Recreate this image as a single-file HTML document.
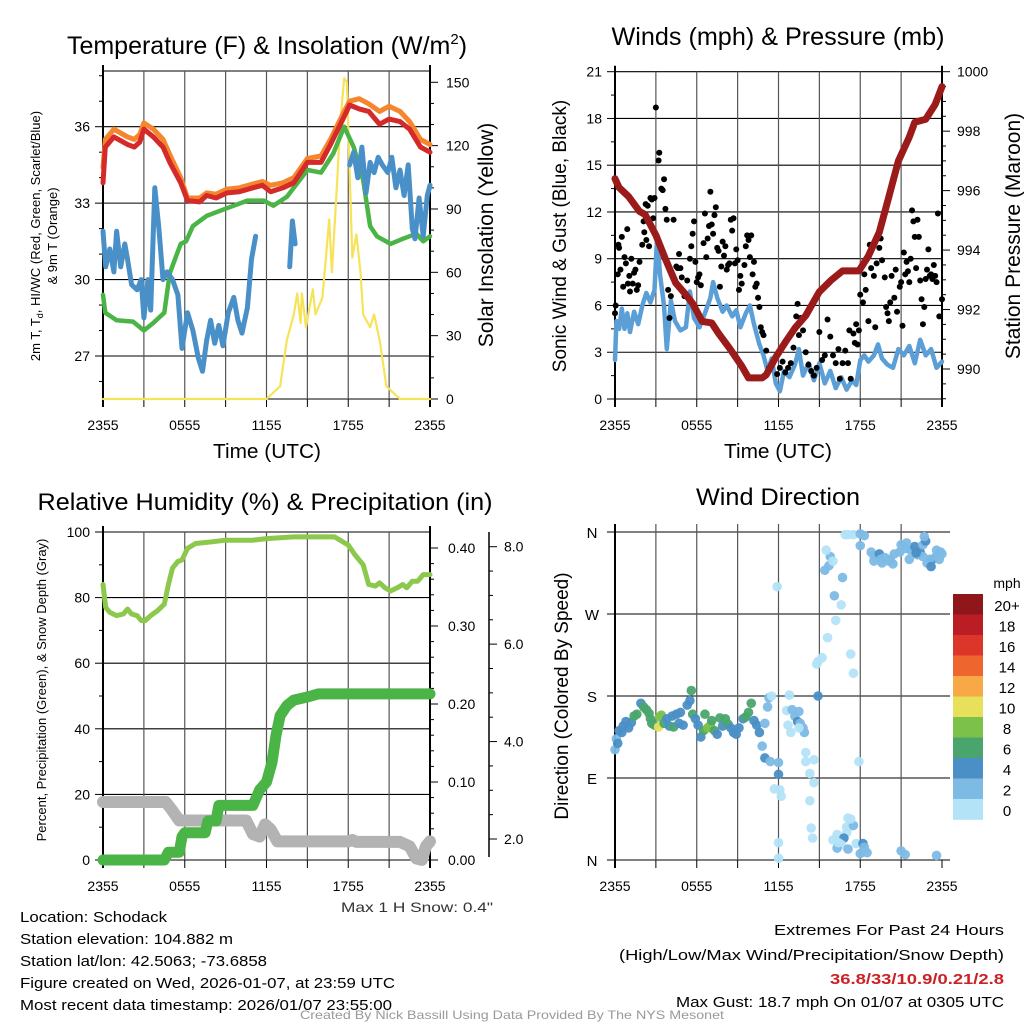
<!DOCTYPE html>
<html><head><meta charset="utf-8">
<style>
html,body{margin:0;padding:0;background:#fff;}
svg{display:block;font-family:"Liberation Sans",Arial,sans-serif;}
</style></head>
<body>
<svg id="fig" width="1024" height="1024" viewBox="0 0 1024 1024">
<rect width="1024" height="1024" fill="#fff"/>
<g id="g1"></g>
<g id="g2"></g>
<g id="g3"></g>
<g id="g4"></g>
<g id="txt" font-size="15" fill="#000">
<text x="20" y="922" textLength="147" lengthAdjust="spacingAndGlyphs">Location: Schodack</text>
<text x="20" y="944" textLength="213" lengthAdjust="spacingAndGlyphs">Station elevation: 104.882 m</text>
<text x="20" y="966" textLength="247" lengthAdjust="spacingAndGlyphs">Station lat/lon: 42.5063; -73.6858</text>
<text x="20" y="988" textLength="375" lengthAdjust="spacingAndGlyphs">Figure created on Wed, 2026-01-07, at 23:59 UTC</text>
<text x="20" y="1010" textLength="372" lengthAdjust="spacingAndGlyphs">Most recent data timestamp: 2026/01/07 23:55:00</text>
<text x="774" y="935" textLength="230" lengthAdjust="spacingAndGlyphs">Extremes For Past 24 Hours</text>
<text x="619" y="960" textLength="385" lengthAdjust="spacingAndGlyphs">(High/Low/Max Wind/Precipitation/Snow Depth)</text>
<text x="830" y="984" textLength="174" lengthAdjust="spacingAndGlyphs" fill="#cc2127" font-weight="bold">36.8/33/10.9/0.21/2.8</text>
<text x="676" y="1007" textLength="328" lengthAdjust="spacingAndGlyphs">Max Gust: 18.7 mph On 01/07 at 0305 UTC</text>
<text x="341" y="912" textLength="152" lengthAdjust="spacingAndGlyphs" font-size="14" fill="#333">Max 1 H Snow: 0.4"</text>
<text x="300" y="1019" textLength="424" lengthAdjust="spacingAndGlyphs" font-size="12" fill="#999">Created By Nick Bassill Using Data Provided By The NYS Mesonet</text>
</g>
</svg>
<script>
// ---------- DATA ----------
const timeTicks = ["2355","0555","1155","1755","2355"];
// Temperature panel
const tHours = [0,0.17,0.8,1.8,2.3,2.7,3.0,3.7,4.4,4.9,5.7,6.2,7.1,7.6,8.3,9.1,10.0,11.0,11.7,12.3,13.2,14.0,15.0,16.0,16.7,17.7,18.1,18.8,19.5,20.3,21.0,21.8,22.5,23.3,24];
const tempRed = [33.8,35.2,35.6,35.3,35.2,35.4,35.9,35.6,35.2,34.6,33.8,33.1,33.05,33.3,33.2,33.4,33.45,33.6,33.7,33.45,33.6,33.8,34.6,34.6,35.3,36.4,36.85,36.7,36.6,36.1,36.3,36.2,35.9,35.2,35.0];
const temp9m = [34.4,35.5,35.9,35.6,35.5,35.7,36.15,35.9,35.5,34.9,34.0,33.2,33.2,33.4,33.35,33.55,33.6,33.75,33.85,33.7,33.8,34.0,34.75,34.85,35.5,36.6,37.0,37.1,36.9,36.6,36.8,36.6,36.2,35.5,35.3];
const dHours = [0,0.17,1.0,2.2,3.0,3.7,4.5,4.9,5.7,6.1,6.6,7.6,9.1,10.6,11.8,12.5,13.5,15.0,16.0,16.9,17.7,18.4,19.1,19.6,20.1,21.1,22.0,23.0,23.5,24];
const dewGreen = [29.4,28.7,28.4,28.35,28.0,28.3,28.7,30.25,31.4,31.5,32.1,32.5,32.8,33.1,33.1,32.9,33.25,34.3,34.2,34.95,36.0,35.2,33.9,32.1,31.7,31.4,31.6,31.8,31.5,31.7];
const wcHours = [0,0.2,0.5,0.8,1.0,1.3,1.6,1.8,2.1,2.5,2.8,3.0,3.3,3.5,3.8,4.1,4.4,4.7,5.1,5.5,5.8,6.2,6.6,7.0,7.3,7.6,7.9,8.2,8.5,8.8,9.2,9.6,9.9,10.2,10.6,10.9,11.2,11.3,13.7,13.9,14.1,14.2,18.1,18.4,18.7,19.0,19.3,19.6,19.9,20.2,20.5,20.9,21.2,21.5,21.8,22.1,22.4,22.7,22.9,23.2,23.5,23.8,24];
const windChill = [31.9,30.5,31.2,30.3,31.9,30.5,31.4,30.8,29.8,29.6,30.0,28.5,30.0,28.8,33.6,32.0,30.0,30.3,30.0,29.4,27.3,28.7,28.0,26.9,26.4,27.6,28.4,27.5,28.2,27.4,28.7,29.3,28.4,27.9,28.9,30.8,31.7,null,30.5,32.3,31.4,null,34.5,35.0,34.0,35.2,33.4,34.6,34.2,34.8,34.5,34.2,34.8,33.6,34.3,33.3,34.5,32.0,31.6,33.2,31.7,33.3,33.7];
const solarHours = [0,12.0,13.0,13.5,14.0,14.25,14.5,14.6,14.9,15.4,15.6,16.1,16.6,16.8,17.2,17.4,17.7,17.9,18.3,18.6,18.9,19.1,19.6,19.9,20.3,20.8,21.3,21.8,24];
const solar = [0,0,6,28,40,50,36,50,34,52,40,48,85,60,105,130,152,150,67,78,60,40,34,40,28,6,3,0,0];
// Winds panel
const wHours = [0,0.1,0.3,0.5,0.7,0.9,1.1,1.4,1.7,2.0,2.3,2.6,2.9,3.1,3.3,3.6,3.8,4.1,4.4,4.8,5.2,5.5,5.8,6.2,6.6,7.0,7.2,7.5,7.9,8.2,8.6,8.9,9.2,9.6,9.9,10.2,10.6,10.9,11.2,11.5,11.8,12.1,12.4,12.8,13.2,13.5,13.8,14.2,14.6,15.0,15.4,15.8,16.2,16.6,17.0,17.4,17.7,18.0,18.3,18.6,19.0,19.3,19.6,20.0,20.4,20.8,21.2,21.6,22.0,22.4,22.8,23.2,23.6,24];
const windSpeed = [2.5,5,4.5,5.8,4.5,5.5,4.3,5.6,4.8,6.0,6.8,6.2,7.0,10.5,8.0,6.0,3.2,6.3,5.0,4.4,4.6,6.9,5.2,4.6,5.5,6.5,7.5,6.5,5.6,6.0,5.3,5.7,4.6,5.5,6.0,4.8,3.5,2.8,1.8,2.6,1.0,0.5,1.8,1.4,2.2,3.2,1.5,2.3,1.2,2.3,1.0,1.8,0.7,1.4,0.6,1.2,0.9,2.5,2.8,2.4,2.8,3.5,2.6,2.2,2.0,3.2,2.8,3.4,2.3,3.8,2.8,3.2,2.0,2.4];
const gustHours = [0.0,0.05,0.2,0.25,0.3,0.4,0.5,0.6,0.7,0.8,0.9,0.95,1.05,1.1,1.2,1.3,1.4,1.5,1.6,1.7,1.8,2.0,2.1,2.15,2.25,2.3,2.4,2.5,2.6,2.7,2.8,2.9,3.0,3.2,3.25,3.3,3.4,3.5,3.6,3.7,3.8,3.9,4.0,4.1,4.3,4.5,4.6,4.7,4.8,4.9,5.1,5.3,5.5,5.6,5.7,5.8,5.9,6.0,6.1,6.2,6.3,6.5,6.6,6.7,6.8,6.9,7.0,7.1,7.2,7.3,7.4,7.5,7.6,7.7,7.8,7.9,8.0,8.1,8.2,8.3,8.4,8.5,8.6,8.7,8.8,8.9,9.0,9.1,9.2,9.3,9.5,9.6,9.7,9.8,9.9,10.0,10.1,10.2,10.3,10.4,10.5,10.6,10.7,10.8,10.9,11.1,11.3,11.6,11.9,12.1,12.3,12.5,12.7,12.9,13.1,13.3,13.4,13.5,13.6,13.8,14.0,14.2,14.4,14.6,14.8,15.0,15.2,15.4,15.6,15.8,16.0,16.2,16.4,16.5,16.7,16.9,17.1,17.2,17.3,17.5,17.6,17.7,17.8,17.9,18.0,18.2,18.3,18.4,18.6,18.7,18.8,19.0,19.1,19.2,19.4,19.5,19.6,19.8,19.9,20.0,20.1,20.2,20.3,20.5,20.6,20.7,20.9,21.0,21.1,21.2,21.3,21.4,21.5,21.6,21.7,21.8,21.9,22.0,22.1,22.2,22.3,22.4,22.5,22.6,22.7,22.8,22.9,23.0,23.1,23.2,23.3,23.4,23.5,23.6,23.7,23.8,24.0];
const gustSpeed = [5.5,6.0,8.0,9.9,9.7,8.3,10.4,7.2,9.1,8.7,10.9,7.4,7.9,6.9,9.0,7.4,8.1,8.3,7.0,7.3,8.8,9.9,11.4,10.7,12.5,10.2,12.4,9.8,12.9,12.8,11.6,12.9,18.7,15.3,15.8,9.8,13.5,13.4,14.1,12.2,11.5,7.0,5.2,6.6,11.5,8.5,8.4,9.3,8.4,7.8,6.6,7.6,9.0,9.8,10.6,11.4,8.8,7.5,7.8,8.0,7.3,10.0,11.9,9.1,10.3,11.1,13.3,11.2,10.6,11.8,12.3,9.7,9.5,7.2,8.5,10.1,9.2,9.8,8.3,8.6,8.7,11.5,10.8,11.6,8.7,9.6,8.9,7.0,7.9,7.4,8.6,9.8,10.5,10.2,9.1,10.5,8.0,8.8,7.2,7.4,6.5,5.9,4.6,4.3,4.1,3.1,2.0,2.3,1.6,2.0,2.4,1.7,2.0,2.3,3.3,5.3,6.1,4.1,5.2,4.4,3.0,2.2,1.8,1.5,2.0,4.3,2.5,2.8,5.1,4.0,2.8,2.3,3.2,1.3,2.3,3.1,2.3,4.4,1.3,4.2,3.6,4.8,3.5,4.4,6.7,6.2,8.0,7.0,5.0,9.9,8.4,7.9,4.6,8.7,9.7,10.3,8.9,7.8,5.9,5.5,5.0,6.2,7.9,6.5,8.3,5.6,7.2,7.5,4.7,9.4,8.0,8.8,8.2,7.5,9.0,12.1,11.4,10.4,8.4,11.5,10.4,7.6,6.4,4.8,5.9,7.7,8.3,9.6,7.9,8.0,7.7,8.6,7.9,7.5,11.9,5.3,6.4];
const pHours = [0,0.3,1.0,1.8,2.2,3.0,3.7,4.45,5.2,5.7,6.4,7.1,7.6,8.4,9.3,9.8,10.8,11.1,11.8,12.5,13.25,14.0,15.0,15.9,16.7,17.9,18.6,19.4,20.1,20.8,21.6,22.0,22.8,23.5,24];
const pressure = [996.4,996.1,995.8,995.3,995.2,994.5,993.7,992.9,992.5,992.2,991.6,991.55,991.2,990.7,990.1,989.7,989.7,989.8,990.4,990.9,991.4,991.8,992.6,993.0,993.3,993.3,993.8,994.6,995.8,997.0,997.8,998.3,998.4,998.9,999.5];
// Humidity panel
const rhHours = [0,0.2,0.5,1.0,1.5,1.8,2.1,2.5,2.8,3.1,3.5,4.0,4.5,4.8,5.1,5.5,5.8,6.2,6.8,8,9,11,12,14,17,18,18.5,19.1,19.5,20,20.3,20.7,21.1,21.6,22,22.3,22.7,23.1,23.5,24];
const rh = [84,77,75.5,74.5,75,76.5,75,74.5,73,73,74.5,76,78,84,89,91,91.5,95,96.5,97,97.5,97.5,98,98.5,98.5,96,93,90,84,83.5,84.5,83,82,83,84,83,85,85,87,87];
const prHours = [0,4.5,4.8,5.6,5.8,6.0,7.5,7.7,8.3,8.5,8.8,11.0,11.5,12.0,12.4,12.7,13.0,13.5,14.0,15.0,15.8,24];
const precip = [0,0,0.01,0.01,0.03,0.035,0.035,0.05,0.05,0.07,0.07,0.07,0.09,0.10,0.125,0.16,0.185,0.198,0.205,0.209,0.213,0.213];
const snHours = [0,4.6,5.0,5.6,10.5,11.0,11.5,11.9,12.3,12.8,18,18.3,18.6,21.8,22.5,23.0,23.4,23.7,24];
const snow = [2.76,2.76,2.62,2.38,2.38,2.1,2.05,2.3,2.2,1.95,1.95,1.98,1.94,1.94,1.85,1.6,1.57,1.85,1.95];
// Wind direction panel
const dirHours = [0.0,0.1,0.2,0.3,0.5,0.6,0.8,1.0,1.2,1.4,1.6,1.9,2.1,2.3,2.5,2.6,2.7,2.9,3.2,3.3,3.4,3.6,3.8,4.0,4.2,4.3,4.5,4.7,4.8,5.0,5.3,5.5,5.6,5.7,5.9,6.1,6.3,6.5,6.6,6.8,7.0,7.1,7.3,7.5,7.7,7.9,8.1,8.3,8.5,8.7,8.9,9.1,9.4,9.6,9.8,10.0,10.2,10.4,10.6,10.8,11.0,11.2,11.3,11.5,11.0,11.4,12.0,12.0,11.7,12.1,12.2,12.0,12.0,11.9,12.8,12.6,12.7,13.0,13.2,13.4,13.5,13.6,13.8,13.9,12.9,13.5,14.0,14.0,14.3,14.6,14.3,14.4,14.5,14.6,14.9,14.8,14.9,15.2,15.6,16.2,16.6,16.1,16.7,15.4,15.7,15.8,15.5,16.0,17.3,17.5,17.9,16.0,16.3,17.0,17.3,17.5,17.0,17.1,17.7,18.2,16.8,17.3,16.6,16.3,16.4,17.1,18.0,18.5,18.3,21.0,21.3,23.6,16.9,17.1,17.5,18.0,18.3,18.0,18.8,19.0,19.4,19.8,20.2,20.5,20.9,21.3,21.7,22.0,22.2,22.4,22.6,22.9,23.3,23.6,23.8,23.9,24.0,19.0,19.5,20.4,21.6,22.6,22.8,23.1,23.2,23.6,19.6,20.1,21.0,21.4,22.1,22.7];
const dirDeg = [121,133,128,142,140,147,152,145,151,158,160,172,168,165,161,155,150,148,146,157,159,150,155,147,158,146,160,150,162,148,170,175,186,160,155,148,135,142,160,145,148,153,142,138,156,147,155,149,145,140,138,145,155,157,162,172,153,148,140,125,150,168,178,180,112,108,107,94,78,77,70,19,2,300,181,164,148,165,158,152,163,150,145,140,140,145,118,108,95,85,65,35,24,110,180,215,218,222,244,263,280,290,310,318,323,333,340,328,226,205,108,22,28,36,37,38,30,46,18,18,24,45,17,13,19,12,7,8,14,10,6,5,357,357,357,358,356,345,338,334,336,332,330,336,338,342,340,344,335,338,333,326,330,334,330,338,336,328,330,325,330,346,350,330,322,340,326,328,346,348,337,355];
const dirSpeed = [3,3,5,4,4,4,5,4,4,6,6,4,6,6,6,6,6,6,10,8,8,6,4,4,4,6,4,4,4,4,4,4,6,6,4,4,4,6,6,8,8,6,6,4,6,4,6,6,4,4,4,4,4,6,6,6,4,4,4,2,2,2,2,0,4,2,2,4,0,0,0,0,0,0,0,0,0,2,2,4,2,2,2,2,0,0,0,0,0,0,0,0,0,0,4,0,0,0,0,0,0,2,2,2,2,2,0,0,0,0,0,0,0,0,0,2,0,0,0,4,4,0,0,2,0,2,2,2,2,2,2,2,0,0,0,2,2,2,2,2,4,2,2,2,2,2,2,4,2,4,2,2,4,2,2,2,2,2,2,2,2,2,4,2,4,2,2,2,2,2,4,2];
const speedBins = ["0","2","4","6","8","10","12","14","16","18","20+"];
const speedColors = ["#b3e3f7","#7dbbe5","#4a8fc6","#4aa56d","#7cc24a","#e6e05a","#f6a945","#ef652e","#dc362a","#bb1d24","#8f1719"];

// ---------- HELPERS ----------
const NS = "http://www.w3.org/2000/svg";
function mk(parent, tag, attrs, text){
  const e = document.createElementNS(NS, tag);
  for (const k in attrs) e.setAttribute(k, attrs[k]);
  if (text !== undefined) e.textContent = text;
  parent.appendChild(e);
  return e;
}
function linScale(d0,d1,r0,r1){ return v => r0 + (v-d0)*(r1-r0)/(d1-d0); }
function pathFrom(xs, ys, sx, sy){
  let d = "", pen = false;
  for (let i=0;i<xs.length;i++){
    if (ys[i]===null){ pen=false; continue; }
    d += (pen?"L":"M") + sx(xs[i]).toFixed(1) + "," + sy(ys[i]).toFixed(1);
    pen = true;
  }
  return d;
}
const X0 = 103, X1 = 430;
function grid(g, x0, x1, y0, y1){
  const sx = linScale(0,24,x0,x1);
  for (let h=3; h<24; h+=3){
    const l = mk(g,"line",{x1:sx(h),x2:sx(h),y1:y0,y2:y1,stroke:"#555","stroke-width":1.2});
    
    
  }
  for (let h=0; h<=24; h+=3){
    const t = mk(g,"line",{x1:sx(h),x2:sx(h),y1:y1,y2:y1+8,stroke:"#000","stroke-width":1});
    
    
  }
  timeTicks.forEach((lab,i)=>{
    const t = mk(g,"text",{x:sx(i*6),y:y1+31,"font-size":14,"text-anchor":"middle"},lab);
    
    
  });
  return sx;
}
function hline(g,x0,x1,y){
  const l = mk(g,"line",{x1:x0,x2:x1,y1:y,y2:y,stroke:"#000","stroke-width":1.1});
  
  
}
function frame(g,x0,x1,y0,y1){
  const l = mk(g,"line",{x1:x0,x2:x0,y1:y0-6,y2:y1+8,stroke:"#000","stroke-width":2});
  
  
  const r = mk(g,"line",{x1:x1,x2:x1,y1:y0-6,y2:y1+8,stroke:"#000","stroke-width":2});
  
  
}
function tickL(g,x,y,len,label,name){
  const t = mk(g,"line",{x1:x-len,x2:x,y1:y,y2:y,stroke:"#000","stroke-width":1});
  
  
  if (label!==null){
    const tx = mk(g,"text",{x:x-13,y:y+5,"font-size":14,"text-anchor":"end"},label);
    
    
  }
}
function tickR(g,x,y,len,label,name,lx){
  const t = mk(g,"line",{x1:x,x2:x+len,y1:y,y2:y,stroke:"#000","stroke-width":1});
  
  
  if (label!==null){
    const tx = mk(g,"text",{x:lx,y:y+5,"font-size":14},label);
    
    
  }
}
function title(g,x,y,txt,size,name,len){
  const a = {x:x,y:y,"font-size":size,"text-anchor":"middle"};
  if (len){ a.textLength = len; a.lengthAdjust = "spacingAndGlyphs"; }
  const t = mk(g,"text",a,txt);
  
  
  return t;
}
function vtitle(g,x,y,txt,size,name){
  const t = mk(g,"text",{x:x,y:y,"font-size":size,"text-anchor":"middle",transform:`rotate(-90 ${x} ${y})`},txt);
  
  
  return t;
}
function line(g,xs,ys,sx,sy,color,w,name){
  const p = mk(g,"path",{d:pathFrom(xs,ys,sx,sy),fill:"none",stroke:color,"stroke-width":w,"stroke-linejoin":"round","stroke-linecap":"round"});
  
  
}

// ---------- PANEL 1: Temperature ----------
(function(){
  const g = document.getElementById("g1");
  const y0=71, y1=399;
  const sy = linScale(27,36,356,126.7);
  const sr = linScale(0,150,399,82.3);
  for (const v of [27,30,33,36]) hline(g,X0,X1,sy(v));
  hline(g,X0,X1,y0); hline(g,X0,X1,y1);
  const sx = grid(g,X0,X1,y0,y1);
  frame(g,X0,X1,y0,y1);
  for (let v=26; v<=38; v++){ const y=sy(v); if(y<y0||y>y1) continue; tickL(g,X0,y,v%3===0?8:4,v%3===0?String(v):null,'temp-axis'); }
  for (let v=0; v<=150; v+=10){ tickR(g,X1,sr(v),v%30===0?8:4,v%30===0?String(v):null,'solar-axis',446); }
  line(g,solarHours,solar,sx,sr,"#f7e35a",2.2,'solar-line');
  line(g,dHours,dewGreen,sx,sy,"#4bb446",4.5,'dewpoint-line');
  line(g,wcHours,windChill,sx,sy,"#4a90c8",5,'windchill-line');
  line(g,tHours,temp9m,sx,sy,"#f5862d",5,'temp-9m-line');
  line(g,tHours,tempRed,sx,sy,"#d42a2a",5,'temp-2m-line');
  const t = title(g,267,54,"",25,'temperature-title');
  t.innerHTML = 'Temperature (F) &amp; Insolation (W/m<tspan dy="-10" font-size="15">2</tspan><tspan dy="10">)</tspan>';
  title(g,267,458,"Time (UTC)",20,'x-axis-title',108);
  vtitle(g,493,235,"Solar Insolation (Yellow)",21,'solar-axis-title');
  const a = vtitle(g,40,236,"",13,'temp-axis-title');
  a.innerHTML = '2m T, T<tspan dy="3" font-size="9">d</tspan><tspan dy="-3">, HI/WC (Red, Green, Scarlet/Blue)</tspan>';
  vtitle(g,57,236,"& 9m T (Orange)",13,'temp-axis-title-2');
})();

// ---------- PANEL 2: Winds ----------
(function(){
  const g = document.getElementById("g2");
  const x0=615, x1=942, y0=71.7, y1=399;
  const sy = linScale(0,21,399,71.7);
  const sp = linScale(990,1000,369,71.7);
  for (let v=0; v<=21; v+=3) hline(g,x0,x1,sy(v));
  const sx = grid(g,x0,x1,y0,y1);
  frame(g,x0,x1,y0,y1);
  for (let v=0; v<=21; v+=1.5) tickL(g,x0,sy(v),v%3===0?8:4,v%3===0?String(v):null,'wind-axis');
  for (let v=989; v<=1000; v+=0.5){ const lab = (v%2===0)?String(v):null; tickR(g,x1,sp(v),lab?8:4,lab,'pressure-axis',957); }
  line(g,wHours,windSpeed,sx,sy,"#5b9fd6",4.5,'wind-speed-line');
  gustHours.forEach((h,i)=>{
    const c = mk(g,"circle",{cx:sx(h),cy:sy(gustSpeed[i]),r:3,fill:"#000"});
    
    
  });
  line(g,pHours,pressure,sx,sp,"#9b1b1b",7,'pressure-line');
  title(g,778,45,"Winds (mph) & Pressure (mb)",25,'winds-title',333);
  title(g,778,458,"Time (UTC)",20,'x-axis-title',108);
  vtitle(g,566,236,"Sonic Wind & Gust (Blue, Black)",19,'wind-axis-title');
  vtitle(g,1020,236,"Station Pressure (Maroon)",21,'pressure-axis-title');
})();

// ---------- PANEL 3: Humidity ----------
(function(){
  const g = document.getElementById("g3");
  const y0=532, y1=860;
  const sy = linScale(0,100,860,532);
  const spr = linScale(0,0.4,860,548);
  const ssn = linScale(2,8,839,546.7);
  for (let v=0; v<=100; v+=20) hline(g,X0,X1,sy(v));
  const sx = grid(g,X0,X1,y0,y1);
  frame(g,X0,X1,y0,y1);
  for (let v=0; v<=100; v+=10) tickL(g,X0,sy(v),v%20===0?8:4,v%20===0?String(v):null,'rh-axis');
  for (let v=0; v<=0.42; v+=0.02){ const major = Math.round(v*100)%10===0; tickR(g,X1,spr(v),major?8:4,major?v.toFixed(2):null,'precip-axis',448); }
  const sa = mk(g,"line",{x1:489,x2:489,y1:532,y2:857,stroke:"#000","stroke-width":1.5});
  
  
  for (let v=1.5; v<=8.5; v+=0.5){ const y=ssn(v); if(y<532||y>857) continue; const major = v%2===0; tickR(g,489,y,major?8:4,major?v.toFixed(1):null,'snow-axis',504); }
  line(g,snHours,snow,sx,ssn,"#b3b3b3",12,'snow-depth-line');
  line(g,prHours,precip,sx,spr,"#4bb446",11,'precip-line');
  line(g,rhHours,rh,sx,sy,"#8cc84b",5,'rh-line');
  title(g,265,510,"Relative Humidity (%) & Precipitation (in)",24,'humidity-title',455);
  vtitle(g,46,690,"Percent, Precipitation (Green), & Snow Depth (Gray)",13,'rh-axis-title');
})();

// ---------- PANEL 4: Wind direction ----------
(function(){
  const g = document.getElementById("g4");
  const x0=615, x1=942, y0=532, y1=860;
  const sy = linScale(0,360,860,532);
  const labs = ["N","E","S","W","N"];
  for (let i=0;i<5;i++){
    const y = sy(i*90);
    const l = mk(g,"line",{x1:x0-8,x2:x1+8,y1:y,y2:y,stroke:"#000","stroke-width":1.1});
    
    
    const t = mk(g,"text",{x:592,y:y+6,"font-size":15,"text-anchor":"middle"},labs[i]);
    
    
  }
  const sx = grid(g,x0,x1,y0-8,y1);
  const l0 = mk(g,"line",{x1:x0,x2:x0,y1:y0-8,y2:y1+8,stroke:"#000","stroke-width":2});
  
  
  dirHours.forEach((h,i)=>{
    const bin = Math.min(10, Math.floor(dirSpeed[i]/2));
    const c = mk(g,"circle",{cx:sx(h),cy:sy(dirDeg[i]),r:4.8,fill:speedColors[bin],"fill-opacity":0.95});
    
    
  });
  title(g,778,505,"Wind Direction",24,'wind-direction-title',164);
  vtitle(g,568,696,"Direction (Colored By Speed)",19,'direction-axis-title');
  const lg = mk(g,"g",{});
  
  
  const top=594, bh=20.5;
  for (let i=0;i<11;i++){
    const k = 10-i;
    const r = mk(lg,"rect",{x:953,y:top+i*bh,width:30,height:bh+0.3,fill:speedColors[k]});
    
    
    const t = mk(lg,"text",{x:1007,y:top+i*bh+17,"font-size":15,"text-anchor":"middle"},speedBins[k]);
    
    
  }
  const u = mk(lg,"text",{x:1007,y:588,"font-size":14,"text-anchor":"middle"},"mph");
  
  
})();
</script>
</body></html>
